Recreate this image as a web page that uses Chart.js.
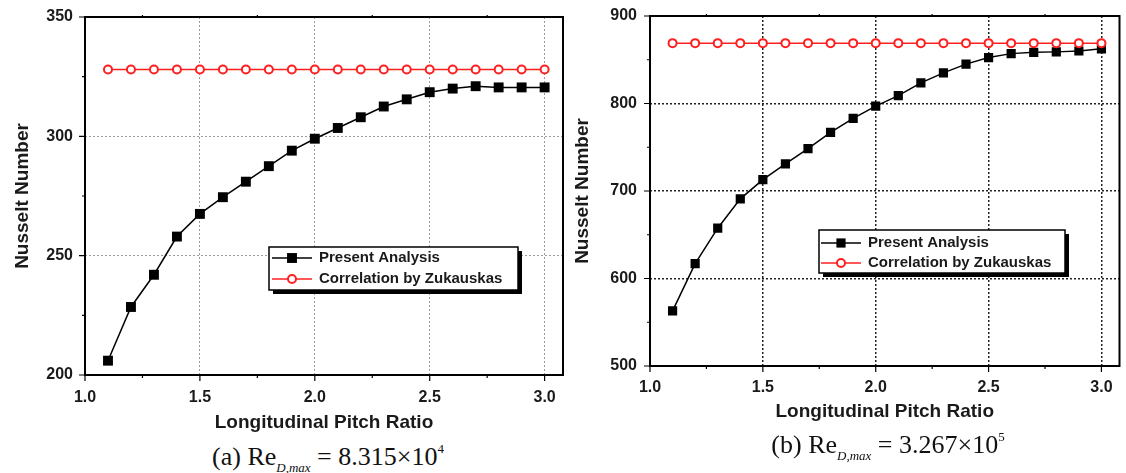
<!DOCTYPE html>
<html>
<head>
<meta charset="utf-8">
<script src="https://cdn.jsdelivr.net/npm/chart.js@4.4.1/dist/chart.umd.min.js"></script>
<style>
  body { margin: 0; background: #fff; width: 1126px; height: 473px; position: relative; overflow: hidden; }
  canvas { position: absolute; top: 0; }
  #chartA { left: 0; }
  #chartB { left: 570px; }
  .caption { position: absolute; font-family: "Liberation Serif", "DejaVu Serif", serif; font-size: 26px; color: #111; white-space: nowrap; transform: translate(-50%, -50%); }
  .caption sub { font-style: italic; font-size: 13px; vertical-align: -7px; }
  .caption sup { font-size: 13px; vertical-align: 12px; }
</style>
</head>
<body>
<canvas id="chartA" width="570" height="440"></canvas>
<canvas id="chartB" width="556" height="430"></canvas>
<div class="caption" style="left:328px; top:458px;">(a) Re<sub>D,max</sub> = 8.315×10<sup>4</sup></div>
<div class="caption" style="left:888px; top:446px;">(b) Re<sub>D,max</sub> = 3.267×10<sup>5</sup></div>
<script>
// valeurs
const pitchRatio = [1.1, 1.2, 1.3, 1.4, 1.5, 1.6, 1.7, 1.8, 1.9, 2.0, 2.1, 2.2, 2.3, 2.4, 2.5, 2.6, 2.7, 2.8, 2.9, 3.0];

const presentA = [206, 228.5, 242, 258, 267.5, 274.5, 281, 287.5, 294, 299, 303.5, 308, 312.5, 315.5, 318.5, 320, 321, 320.5, 320.5, 320.5];
const zukauskasA = [328, 328, 328, 328, 328, 328, 328, 328, 328, 328, 328, 328, 328, 328, 328, 328, 328, 328, 328, 328];

const presentB = [563, 617, 657.5, 691, 713, 731, 748.5, 767, 783, 797, 809, 823.5, 835, 845, 852.5, 857, 858.5, 859, 860, 862.5];
const zukauskasB = [869, 869, 869, 869, 869, 869, 869, 869, 869, 869, 869, 869, 869, 869, 869, 869, 869, 869, 869, 869];

const seriesLabels = ["Present Analysis", "Correlation by Zukauskas"];

const xMajor = [1.0, 1.5, 2.0, 2.5, 3.0];
const xMinor = [1.25, 1.75, 2.25, 2.75];
const yMajorA = [200, 250, 300, 350];
const yMinorA = [225, 275, 325];
const yMajorB = [500, 600, 700, 800, 900];
const yMinorB = [550, 650, 750, 850];

const sans = "'Liberation Sans', Arial, sans-serif";

// cadre + graduations
const framePlugin = {
  id: "frame",
  afterDatasetsDraw(chart, args, o) {
    const { ctx, chartArea: a, scales } = chart;
    ctx.save();
    ctx.strokeStyle = "#000";
    ctx.lineWidth = 1.2;
    ctx.beginPath();
    o.xMajor.forEach(v => {
      const px = scales.x.getPixelForValue(v);
      ctx.moveTo(px, a.bottom); ctx.lineTo(px, a.bottom + 6);
    });
    o.xMinor.forEach(v => {
      const px = scales.x.getPixelForValue(v);
      ctx.moveTo(px, a.bottom); ctx.lineTo(px, a.bottom + 3);
      ctx.moveTo(px, a.top); ctx.lineTo(px, a.top - 2);
    });
    o.yMajor.forEach(v => {
      const py = scales.y.getPixelForValue(v);
      ctx.moveTo(a.left - 6, py); ctx.lineTo(a.left, py);
    });
    o.yMinor.forEach(v => {
      const py = scales.y.getPixelForValue(v);
      ctx.moveTo(a.left - 3, py); ctx.lineTo(a.left, py);
    });
    ctx.stroke();
    ctx.lineWidth = 2;
    ctx.strokeRect(a.left, a.top, a.right - a.left, a.bottom - a.top);
    ctx.restore();
  }
};

// légende encadrée dans la zone de tracé
const boxLegend = {
  id: "boxLegend",
  afterDraw(chart, args, o) {
    const { ctx, chartArea } = chart;
    const x = chartArea.left + o.x, y = chartArea.top + o.y;
    ctx.save();
    ctx.fillStyle = "#000";
    ctx.fillRect(x + 4, y + 4, o.w, o.h);
    ctx.fillStyle = "#fff";
    ctx.fillRect(x, y, o.w, o.h);
    ctx.strokeStyle = "#000";
    ctx.lineWidth = 1.5;
    ctx.strokeRect(x, y, o.w, o.h);
    chart.data.datasets.forEach((ds, i) => {
      const cy = y + o.rows[i];
      ctx.strokeStyle = ds.borderColor;
      ctx.lineWidth = ds.borderWidth;
      ctx.beginPath();
      ctx.moveTo(x + o.lineFrom, cy);
      ctx.lineTo(x + o.lineTo, cy);
      ctx.stroke();
      ctx.fillStyle = ds.pointBackgroundColor;
      ctx.strokeStyle = ds.pointBorderColor;
      ctx.lineWidth = ds.pointBorderWidth;
      Chart.helpers.drawPoint(ctx, { pointStyle: ds.pointStyle, radius: ds.pointRadius, borderWidth: ds.pointBorderWidth, rotation: 0 }, x + (o.lineFrom + o.lineTo) / 2, cy);
      ctx.fillStyle = "#1a1a1a";
      ctx.font = "bold 15px " + sans;
      ctx.textBaseline = "middle";
      ctx.textAlign = "left";
      ctx.fillText(ds.label, x + o.textX, cy);
    });
    ctx.restore();
  }
};

function toPoints(values) {
  return pitchRatio.map((x, i) => ({ x: x, y: values[i] }));
}

function makeChart(id, present, zuk, s) {
  new Chart(document.getElementById(id), {
    type: "line",
    data: {
      datasets: [{
        label: seriesLabels[0],
        data: toPoints(present),
        borderColor: "#000",
        borderWidth: 1.5,
        pointStyle: "rect",
        pointRadius: s.rectRadius,
        pointBackgroundColor: "#000",
        pointBorderColor: "#000",
        pointBorderWidth: 0,
        order: 1
      }, {
        label: seriesLabels[1],
        data: toPoints(zuk),
        borderColor: "#ff1f1f",
        borderWidth: 1.5,
        pointStyle: "circle",
        pointRadius: 4,
        pointBackgroundColor: "#fff",
        pointBorderColor: "#ff1f1f",
        pointBorderWidth: 2,
        order: 0
      }]
    },
    options: {
      responsive: false,
      animation: false,
      layout: { padding: { top: s.top, right: s.right, bottom: 0, left: 0 } },
      plugins: {
        legend: { display: false },
        tooltip: { enabled: false },
        frame: { xMajor: xMajor, xMinor: xMinor, yMajor: s.yMajor, yMinor: s.yMinor },
        boxLegend: s.legend
      },
      scales: {
        x: {
          type: "linear",
          min: 1.0,
          max: s.xMax,
          afterBuildTicks: sc => { sc.ticks = xMajor.map(v => ({ value: v })); },
          afterFit: sc => { sc.height = s.xHeight; sc.paddingLeft = 0; sc.paddingRight = 0; },
          grid: { color: s.gridColor, lineWidth: s.gridWidth, drawTicks: false },
          border: { display: false, dash: [2, 2] },
          ticks: { padding: s.xPad, color: "#1a1a1a", font: { family: sans, size: 16, weight: "bold" }, callback: v => v.toFixed(1) },
          title: { display: true, text: "Longitudinal Pitch Ratio", color: "#1a1a1a", font: { family: sans, size: 19, weight: "bold" }, padding: { top: 0, bottom: s.xTitlePad } }
        },
        y: {
          min: s.yMajor[0],
          max: s.yMajor[s.yMajor.length - 1],
          afterBuildTicks: sc => { sc.ticks = s.yMajor.map(v => ({ value: v })); },
          afterFit: sc => { sc.width = s.yWidth; sc.paddingTop = 0; sc.paddingBottom = 0; },
          grid: { color: s.gridColor, lineWidth: s.gridWidth, drawTicks: false },
          border: { display: false, dash: [2, 2] },
          ticks: { padding: s.yPad, color: "#1a1a1a", font: { family: sans, size: 16, weight: "bold" } },
          title: { display: true, text: "Nusselt Number", color: "#1a1a1a", font: { family: sans, size: 19, weight: "bold" }, padding: { top: s.yTitlePad, bottom: 0 } }
        }
      }
    },
    plugins: [framePlugin, boxLegend]
  });
}

makeChart("chartA", presentA, zukauskasA, {
  top: 17, right: 3, xMax: 3.08, xHeight: 65, yWidth: 85,
  xPad: 13, yPad: 12, xTitlePad: 6, yTitlePad: 11,
  gridColor: "#9a9a9a", gridWidth: 1, rectRadius: 7,
  yMajor: yMajorA, yMinor: yMinorA,
  legend: { x: 184, y: 230, w: 249, h: 43, rows: [11, 32], lineFrom: 3, lineTo: 43, textX: 50 }
});

makeChart("chartB", presentB, zukauskasB, {
  top: 16, right: 1, xMax: 3.08, xHeight: 64, yWidth: 80,
  xPad: 12, yPad: 13, xTitlePad: 7, yTitlePad: 1,
  gridColor: "#222", gridWidth: 1.5, rectRadius: 6.5,
  yMajor: yMajorB, yMinor: yMinorB,
  legend: { x: 169, y: 214, w: 246, h: 43, rows: [13, 33], lineFrom: 2, lineTo: 42, textX: 49 }
});
</script>
</body>
</html>
